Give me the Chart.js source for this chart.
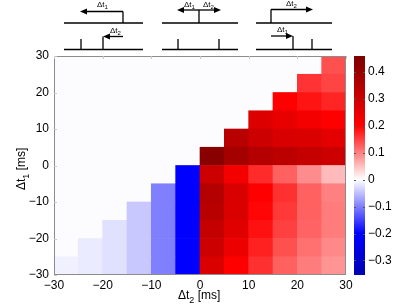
<!DOCTYPE html>
<html>
<head>
<meta charset="utf-8">
<script src="https://cdn.jsdelivr.net/npm/chart.js@4.4.1/dist/chart.umd.min.js"></script>
<style>
  html, body { margin: 0; padding: 0; background: #fff; }
  canvas { display: block; }
</style>
</head>
<body>
<canvas id="heat" width="415" height="307"></canvas>
<script>
// cell grid: 5 ms bins, left edges of columns (dt2) and bottom edges of rows (dt1, top row first)
const CELL = 5;
const COL_LEFT = [-30, -25, -20, -15, -10, -5, 0, 5, 10, 15, 20, 25];
const ROW_BOTTOM = [25, 20, 15, 10, 5, 0, -5, -10, -15, -20, -25, -30];

// correlation values, one array per row (top to bottom), null = empty cell
const ROW_25 = [null, null, null, null, null, null, null, null, null, null, null, 0.137];
const ROW_20 = [null, null, null, null, null, null, null, null, null, null, 0.160, 0.147];
const ROW_15 = [null, null, null, null, null, null, null, null, null, 0.200, 0.184, 0.171];
const ROW_10 = [null, null, null, null, null, null, null, null, 0.267, 0.245, 0.222, 0.200];
const ROW_5  = [null, null, null, null, null, null, null, 0.340, 0.300, 0.277, 0.270, 0.253];
const ROW_0  = [null, null, null, null, null, null, 0.434, 0.380, 0.348, 0.332, 0.316, 0.300];
const ROW_M5 = [null, null, null, null, null, -0.200, 0.300, 0.222, 0.167, 0.125, 0.090, 0.053];
const ROW_M10 = [null, null, null, null, -0.100, -0.200, 0.348, 0.277, 0.200, 0.162, 0.125, 0.100];
const ROW_M15 = [null, null, null, -0.043, -0.100, -0.200, 0.340, 0.270, 0.196, 0.156, 0.125, 0.103];
const ROW_M20 = [null, null, -0.024, -0.043, -0.100, -0.200, 0.316, 0.260, 0.187, 0.150, 0.122, 0.103];
const ROW_M25 = [null, -0.016, -0.024, -0.043, -0.100, -0.200, 0.300, 0.237, 0.175, 0.137, 0.112, 0.093];
const ROW_M30 = [-0.012, -0.016, -0.024, -0.043, -0.100, -0.200, 0.270, 0.200, 0.162, 0.125, 0.103, 0.084];
const VALUES = [ROW_25, ROW_20, ROW_15, ROW_10, ROW_5, ROW_0, ROW_M5, ROW_M10, ROW_M15, ROW_M20, ROW_M25, ROW_M30];

const AXIS_TICKS = [-30, -20, -10, 0, 10, 20, 30];
const CB_TICKS = [-0.3, -0.2, -0.1, 0, 0.1, 0.2, 0.3, 0.4];
const CB_MIN = -0.354;
const CB_MAX = 0.459;

const FONT = '"Liberation Sans", Arial, sans-serif';

// blue - white - red, saturated at +-0.2, darkening towards +-0.45
function colorFor(v) {
  const a = Math.abs(v);
  let hi, lo;
  if (a <= 0.2) {
    hi = 255;
    lo = Math.round(255 * (1 - a / 0.2));
  } else {
    hi = Math.round(255 - Math.min(1, (a - 0.2) / 0.25) * 127);
    lo = 0;
  }
  return v >= 0 ? `rgb(${hi},${lo},${lo})` : `rgb(${lo},${lo},${hi})`;
}

const cells = [];
VALUES.forEach((row, r) => {
  row.forEach((v, c) => {
    if (v === null) return;
    cells.push({ x: COL_LEFT[c] + CELL / 2, y: [ROW_BOTTOM[r], ROW_BOTTOM[r] + CELL], v });
  });
});

function fmt(v) {
  const s = (Math.round(v * 10) / 10).toString();
  return s.replace('-', '\u2212');
}

// text like "Δt" with a lowered index
function drawDelta(ctx, x, y, sub, size, tail) {
  ctx.font = `${size}px ${FONT}`;
  ctx.fillText('\u0394t', x, y);
  let w = ctx.measureText('\u0394t').width;
  ctx.font = `${Math.round(size * 0.75)}px ${FONT}`;
  ctx.fillText(sub, x + w, y + size * 0.3);
  w += ctx.measureText(sub).width;
  if (tail) {
    ctx.font = `${size}px ${FONT}`;
    ctx.fillText(tail, x + w, y);
  }
}

function arrow(ctx, x0, x1, y) {
  const dir = Math.sign(x1 - x0);
  ctx.beginPath();
  ctx.moveTo(x0, y);
  ctx.lineTo(x1 - dir * 5, y);
  ctx.stroke();
  ctx.beginPath();
  ctx.moveTo(x1, y);
  ctx.lineTo(x1 - dir * 7, y - 3);
  ctx.lineTo(x1 - dir * 7, y + 3);
  ctx.closePath();
  ctx.fill();
}

const frame = {
  id: 'frame',
  beforeDatasetsDraw(chart) {
    const { ctx, chartArea: a } = chart;
    ctx.save();
    ctx.fillStyle = '#fcfcff';
    ctx.fillRect(a.left, a.top, a.right - a.left, a.bottom - a.top);
    ctx.restore();
  },
  afterDraw(chart) {
    const { ctx, chartArea: a } = chart;
    const cb = chart.scales.cb;
    ctx.save();

    // axes box with inward ticks
    ctx.strokeStyle = '#8c8c8c';
    ctx.lineWidth = 1;
    ctx.strokeRect(a.left + 0.5, a.top + 0.5, a.right - a.left - 1, a.bottom - a.top - 1);
    ctx.strokeStyle = '#c8c8c8';
    AXIS_TICKS.forEach(t => {
      const px = Math.round(chart.scales.x.getPixelForValue(t)) + 0.5;
      const py = Math.round(chart.scales.y.getPixelForValue(t)) + 0.5;
      ctx.beginPath();
      ctx.moveTo(px, a.top); ctx.lineTo(px, a.top + 3);
      ctx.moveTo(a.left, py); ctx.lineTo(a.left + 3, py);
      ctx.stroke();
    });

    // colorbar
    const cbL = 354, cbR = 365;
    for (let py = Math.floor(a.top); py < a.bottom; py++) {
      ctx.fillStyle = colorFor(cb.getValueForPixel(py + 0.5));
      ctx.fillRect(cbL, py, cbR - cbL, 1);
    }
    ctx.strokeStyle = '#555';
    CB_TICKS.forEach(t => {
      const py = Math.round(cb.getPixelForValue(t)) + 0.5;
      ctx.beginPath();
      ctx.moveTo(cbL, py); ctx.lineTo(cbL + 2, py);
      ctx.moveTo(cbR, py); ctx.lineTo(cbR - 2, py);
      ctx.stroke();
    });

    // axis titles
    ctx.fillStyle = '#000';
    ctx.textBaseline = 'alphabetic';
    ctx.textAlign = 'left';
    drawDelta(ctx, 178, 299, '2', 12, ' [ms]');
    ctx.save();
    ctx.translate(25, 190);
    ctx.rotate(-Math.PI / 2);
    drawDelta(ctx, 0, 0, '1', 12, ' [ms]');
    ctx.restore();

    // schematic of spike timings
    ctx.strokeStyle = '#000';
    ctx.fillStyle = '#000';
    ctx.lineWidth = 1.3;
    const line = (x0, y0, x1, y1) => { ctx.beginPath(); ctx.moveTo(x0, y0); ctx.lineTo(x1, y1); ctx.stroke(); };
    [[64, 143], [162, 238], [256, 332]].forEach(([l, r]) => {
      line(l, 23, r, 23);
      line(l, 49.5, r, 49.5);
    });
    // panel 1
    line(123, 11.5, 123, 23);
    arrow(ctx, 123, 80, 11.5);
    line(81, 39, 81, 49.5);
    line(103, 36.5, 103, 49.5);
    arrow(ctx, 123, 103, 36.5);
    // panel 2
    line(199, 10, 199, 23);
    arrow(ctx, 199, 177, 10);
    arrow(ctx, 199, 221, 10);
    line(178, 39, 178, 49.5);
    line(219, 39, 219, 49.5);
    // panel 3
    line(271, 9.5, 271, 23);
    arrow(ctx, 271, 313, 9.5);
    line(293, 36, 293, 49.5);
    line(312, 39, 312, 49.5);
    arrow(ctx, 271, 293, 36);

    drawDelta(ctx, 97, 7, '1', 8);
    drawDelta(ctx, 110, 33, '2', 8);
    drawDelta(ctx, 184, 7, '1', 8);
    drawDelta(ctx, 203, 7, '2', 8);
    drawDelta(ctx, 286, 6, '2', 8);
    drawDelta(ctx, 277, 32, '1', 8);

    ctx.restore();
  }
};

new Chart(document.getElementById('heat'), {
  type: 'bar',
  data: {
    datasets: [{
      data: cells,
      backgroundColor: cells.map(c => colorFor(c.v)),
      borderWidth: 0,
      barPercentage: 1,
      categoryPercentage: 1,
      grouped: false
    }]
  },
  options: {
    responsive: false,
    animation: false,
    devicePixelRatio: 1,
    layout: { padding: { top: 56, left: 0, right: 0, bottom: 0 } },
    plugins: { legend: { display: false }, tooltip: { enabled: false } },
    scales: {
      x: {
        type: 'linear',
        min: -30,
        max: 30,
        offset: false,
        afterBuildTicks: axis => { axis.ticks = AXIS_TICKS.map(v => ({ value: v })); },
        afterFit: axis => { axis.height = 32; },
        grid: { display: false, drawTicks: false, offset: false },
        border: { display: false },
        ticks: { color: '#000', padding: 3, maxRotation: 0, font: { size: 12, family: FONT }, callback: v => fmt(v) }
      },
      y: {
        type: 'linear',
        min: -30,
        max: 30,
        afterBuildTicks: axis => { axis.ticks = AXIS_TICKS.map(v => ({ value: v })); },
        afterFit: axis => { axis.width = 54; },
        grid: { display: false, drawTicks: false },
        border: { display: false },
        ticks: { color: '#000', padding: 5, font: { size: 12, family: FONT }, callback: v => fmt(v) }
      },
      cb: {
        type: 'linear',
        position: 'right',
        min: CB_MIN,
        max: CB_MAX,
        afterBuildTicks: axis => { axis.ticks = CB_TICKS.map(v => ({ value: v })); },
        afterFit: axis => { axis.width = 69; },
        grid: { display: false, drawTicks: false },
        border: { display: false },
        ticks: { color: '#000', padding: 22, font: { size: 12, family: FONT }, callback: v => fmt(v) }
      }
    }
  },
  plugins: [frame]
});
</script>
</body>
</html>
